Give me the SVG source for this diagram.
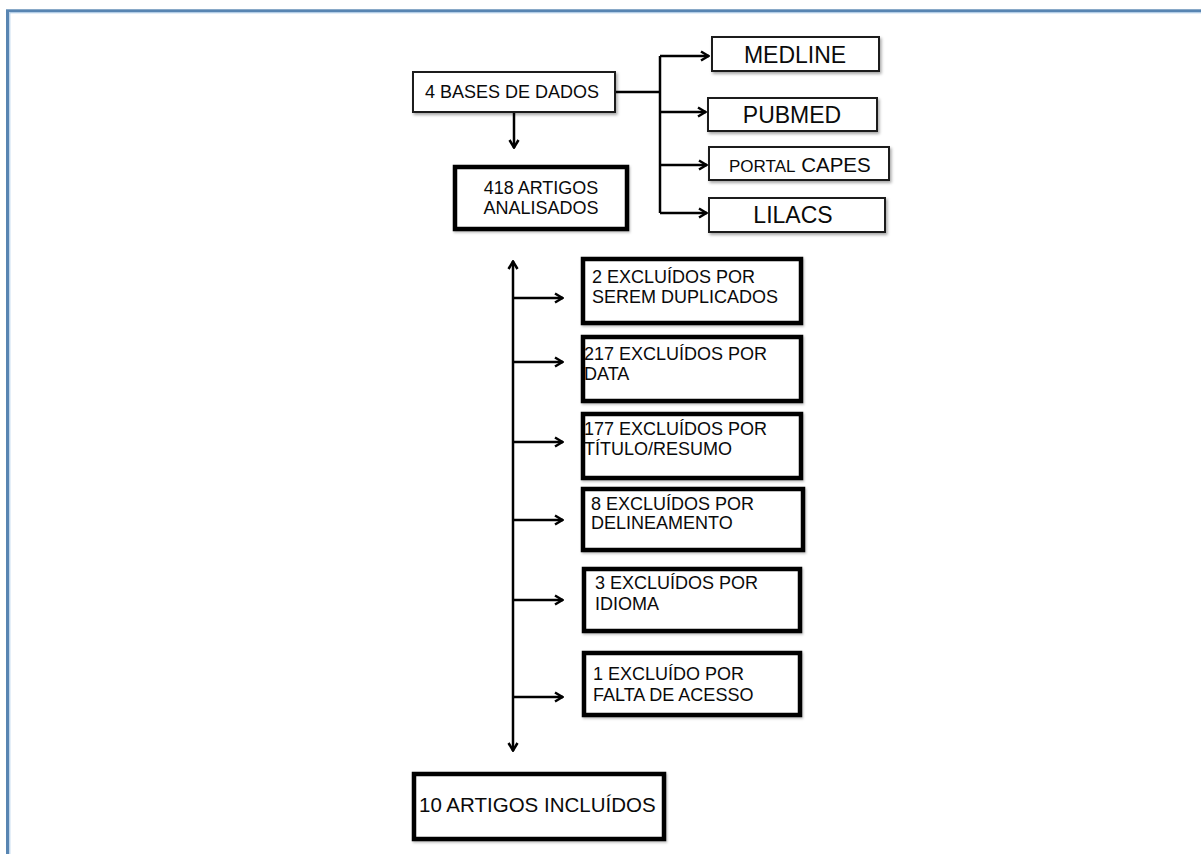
<svg xmlns="http://www.w3.org/2000/svg" width="1201" height="854" viewBox="0 0 1201 854">
<style>
text{font-family:"Liberation Sans",Arial,sans-serif;fill:#0a0a0a;}
.t18{font-size:18px;}
.t20{font-size:20.5px;}
.t23{font-size:23px;}
.thin{fill:#fff;stroke:#1a1a1a;stroke-width:2;}
.thick{fill:#fff;stroke:#000;stroke-width:4.5;}
.con{fill:none;stroke:#000;stroke-width:2.5;}
</style>
<defs>
<marker id="arr" viewBox="0 0 12 12" refX="11" refY="6" markerWidth="12" markerHeight="12" markerUnits="userSpaceOnUse" orient="auto">
<polyline points="3,1.5 10.5,6 3,10.5" fill="none" stroke="#000" stroke-width="2.5"/>
</marker>
<filter id="sh" x="-10%" y="-20%" width="130%" height="160%">
<feDropShadow dx="1.5" dy="2" stdDeviation="1.5" flood-color="#000" flood-opacity="0.35"/>
</filter>
<filter id="sh2" x="-10%" y="-20%" width="130%" height="160%">
<feDropShadow dx="1" dy="1.5" stdDeviation="1.2" flood-color="#000" flood-opacity="0.25"/>
</filter>
</defs>
<rect width="1201" height="854" fill="#fff"/>
<g id="frame">
<rect x="7.5" y="10.8" width="1300" height="900" fill="none" stroke="#5885b2" stroke-width="3"/>
<path d="M9.8 854 V12.8 H1201" fill="none" stroke="#a9c8e6" stroke-width="1"/>
</g>
<g id="connectors">
<path class="con" d="M615 92 H660"/>
<path class="con" d="M660 56 V213"/>
<path class="con" d="M660 56 H709" marker-end="url(#arr)"/>
<path class="con" d="M660 112 H706" marker-end="url(#arr)"/>
<path class="con" d="M660 165 H707" marker-end="url(#arr)"/>
<path class="con" d="M660 213 H707" marker-end="url(#arr)"/>
<path class="con" d="M514 112 V148" marker-end="url(#arr)"/>
<path class="con" d="M513 505 V261" marker-end="url(#arr)"/>
<path class="con" d="M513 505 V751" marker-end="url(#arr)"/>
<path class="con" d="M513 298 H563" marker-end="url(#arr)"/>
<path class="con" d="M513 362 H563" marker-end="url(#arr)"/>
<path class="con" d="M513 442 H563" marker-end="url(#arr)"/>
<path class="con" d="M513 520 H563" marker-end="url(#arr)"/>
<path class="con" d="M513 600 H563" marker-end="url(#arr)"/>
<path class="con" d="M513 697 H563" marker-end="url(#arr)"/>
</g>
<g id="bases">
<rect class="thin" x="413" y="72" width="202" height="40" filter="url(#sh)"/>
<text class="t18" x="425" y="98">4 BASES DE DADOS</text>
</g>
<g id="medline">
<rect class="thin" x="712" y="37" width="167" height="34" filter="url(#sh)"/>
<text class="t23" x="795" y="63" text-anchor="middle">MEDLINE</text>
</g>
<g id="pubmed">
<rect class="thin" x="708" y="98" width="169" height="33" filter="url(#sh)"/>
<text class="t23" x="792" y="123" text-anchor="middle">PUBMED</text>
</g>
<g id="capes">
<rect class="thin" x="709" y="147" width="180" height="33" filter="url(#sh)"/>
<text x="729" y="172"><tspan font-size="17">PORTAL</tspan><tspan font-size="20.5"> CAPES</tspan></text>
</g>
<g id="lilacs">
<rect class="thin" x="709" y="198" width="176" height="34" filter="url(#sh)"/>
<text class="t23" x="793" y="223" text-anchor="middle">LILACS</text>
</g>
<g id="analisados">
<rect class="thick" x="455" y="167" width="172" height="62" filter="url(#sh2)"/>
<text class="t18" x="541" y="194" text-anchor="middle">418 ARTIGOS</text>
<text class="t18" x="541" y="214" text-anchor="middle">ANALISADOS</text>
</g>
<g id="excl1">
<rect class="thick" x="583" y="259" width="218" height="64" filter="url(#sh2)"/>
<text class="t18" x="592" y="283">2 EXCLUÍDOS POR</text>
<text class="t18" x="592" y="303">SEREM DUPLICADOS</text>
</g>
<g id="excl2">
<rect class="thick" x="583" y="337" width="218" height="64" filter="url(#sh2)"/>
<text class="t18" x="584" y="360">217 EXCLUÍDOS POR</text>
<text class="t18" x="584" y="380">DATA</text>
</g>
<g id="excl3">
<rect class="thick" x="583" y="414" width="218" height="64" filter="url(#sh2)"/>
<text class="t18" x="584" y="435">177 EXCLUÍDOS POR</text>
<text class="t18" x="584" y="455">TÍTULO/RESUMO</text>
</g>
<g id="excl4">
<rect class="thick" x="583" y="489" width="220" height="61" filter="url(#sh2)"/>
<text class="t18" x="591" y="510">8 EXCLUÍDOS POR</text>
<text class="t18" x="591" y="529">DELINEAMENTO</text>
</g>
<g id="excl5">
<rect class="thick" x="584" y="569" width="216" height="62" filter="url(#sh2)"/>
<text class="t18" x="595" y="589">3 EXCLUÍDOS POR</text>
<text class="t18" x="595" y="610">IDIOMA</text>
</g>
<g id="excl6">
<rect class="thick" x="584" y="653" width="216" height="62" filter="url(#sh2)"/>
<text class="t18" x="593" y="680">1 EXCLUÍDO POR</text>
<text class="t18" x="593" y="701">FALTA DE ACESSO</text>
</g>
<g id="incluidos">
<rect class="thick" x="414" y="774" width="250" height="65" filter="url(#sh2)"/>
<text class="t20" x="419" y="812">10 ARTIGOS INCLUÍDOS</text>
</g>
</svg>
